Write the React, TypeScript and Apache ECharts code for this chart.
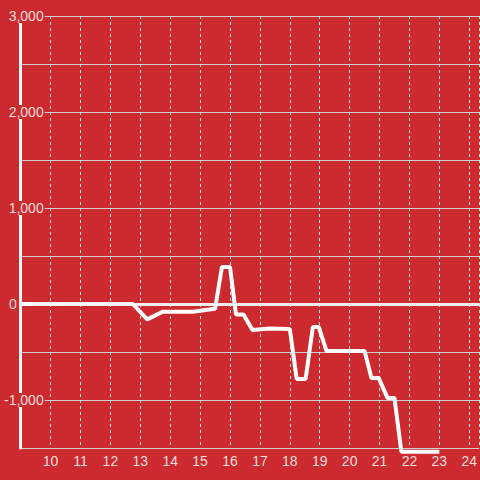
import React, { useEffect, useRef } from "react";
import * as echarts from "echarts";

const xValues = [9, 12.75, 13.23, 13.75, 14.75, 15.5, 15.73, 16.0, 16.2, 16.45, 16.75, 17.33, 18.0, 18.23, 18.53, 18.77, 18.97, 19.23, 20.5, 20.73, 20.97, 21.27, 21.5, 21.73, 23.0];
const yValues = [0, 0, -160, -80, -80, -50, 385, 385, -110, -110, -270, -255, -260, -780, -780, -240, -240, -490, -490, -770, -770, -980, -980, -1540, -1540];

const BG = "#cc2a2e";
const LABEL = "rgba(255,255,255,0.85)";

export default function App() {
  const ref = useRef<HTMLDivElement>(null);
  useEffect(() => {
    if (!ref.current) return;
    const chart = echarts.init(ref.current, undefined, { renderer: "svg" });
    const data = xValues.map((x, i) => [x, yValues[i]]);
    chart.setOption({
      animation: false,
      backgroundColor: BG,
      grid: { left: 20, top: 16, right: 0, bottom: 32, containLabel: false },
      xAxis: {
        type: "value",
        min: 9,
        max: 24.333,
        interval: 1,
        axisLine: { show: true, lineStyle: { color: "#d9d9d9", width: 2 } },
        axisTick: { show: false },
        axisLabel: {
          showMinLabel: false,
          showMaxLabel: false,
          color: LABEL,
          fontSize: 14,
          fontFamily: "Liberation Sans",
          margin: 6,
        },
        splitLine: { show: true, lineStyle: { color: "#e6e6e6", width: 1, type: [3, 3] } },
      },
      yAxis: {
        type: "value",
        min: -1500,
        max: 3000,
        interval: 500,
        axisLine: { show: true, lineStyle: { color: "#f5f5f5", width: 3 } },
        axisTick: { show: false },
        axisLabel: {
          showMinLabel: false,
          color: LABEL,
          fontSize: 14,
          fontFamily: "Liberation Sans",
          margin: -24,
          align: "right",
          formatter: (v: number) => {
            if (v % 1000 !== 0) return "";
            if (v === 0) return "{z|0}";
            return "{a|" + v.toLocaleString("en-US") + "}";
          },
          rich: {
            a: {
              color: LABEL,
              fontSize: 14,
              fontFamily: "Liberation Sans",
              backgroundColor: BG,
              padding: [0, 1, 0, 1],
            },
            z: {
              color: LABEL,
              fontSize: 14,
              fontFamily: "Liberation Sans",
              padding: [0, 28, 0, 0],
            },
          },
        },
        splitLine: { show: true, lineStyle: { color: "#cccccc", width: 1 } },
      },
      series: [
        {
          type: "line",
          data,
          clip: false,
          showSymbol: false,
          symbol: "none",
          lineStyle: { color: "#ffffff", width: 4 },
          z: 5,
          markLine: {
            silent: true,
            symbol: "none",
            label: { show: false },
            lineStyle: { color: "#eeeeee", width: 3, type: "solid" },
            data: [{ yAxis: 0 }],
            z: 3,
          },
        },
      ],
    });
    return () => chart.dispose();
  }, []);
  return (
    <div
      ref={ref}
      style={{ position: "absolute", left: 0, top: 0, width: 480, height: 480 }}
    />
  );
}
